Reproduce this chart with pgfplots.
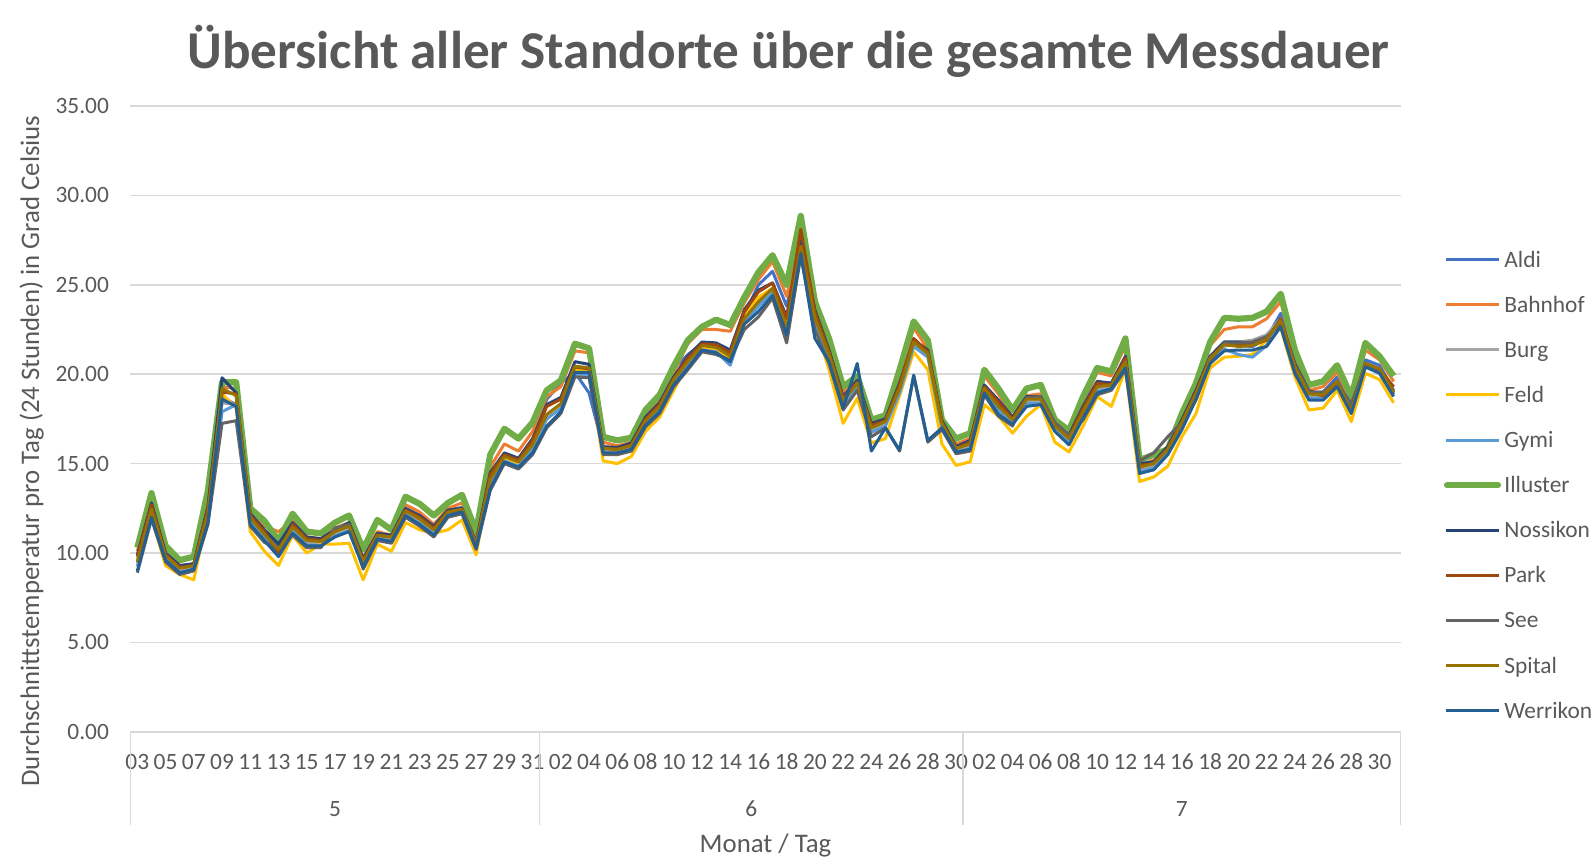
\documentclass[border=0pt]{standalone}
\usepackage{fontspec}
\setmainfont{Carlito}
\usepackage{pgfplots}
\pgfplotsset{compat=1.18}
\usepackage{pgfplotstable}
\definecolor{cAldi}{HTML}{4472C4}
\definecolor{cBahnhof}{HTML}{ED7D31}
\definecolor{cBurg}{HTML}{A5A5A5}
\definecolor{cFeld}{HTML}{FFC000}
\definecolor{cGymi}{HTML}{5B9BD5}
\definecolor{cIlluster}{HTML}{70AD47}
\definecolor{cNossikon}{HTML}{264478}
\definecolor{cPark}{HTML}{9E480E}
\definecolor{cSee}{HTML}{636363}
\definecolor{cSpital}{HTML}{997300}
\definecolor{cWerrikon}{HTML}{255E91}
\definecolor{txt}{HTML}{595959}
\definecolor{gridc}{HTML}{D9D9D9}
\newcommand\tfont{\fontsize{11.7}{14}\selectfont}

\pgfplotstableread{
i A B Bu F Gy Il N P S Sp W
0 9.6 10.1 9.4 9.6 9.25 10.3 9.9 9.8 8.9 9.5 9.0
1 12.55 12.8 12.35 12.0 12.2 13.35 12.8 12.7 11.9 12.45 12.0
2 9.95 10.0 9.75 9.3 9.6 10.4 10.0 9.9 9.5 9.85 9.6
3 9.25 9.3 9.05 8.8 8.9 9.6 9.3 9.2 8.8 9.15 8.9
4 9.4 9.4 9.2 8.5 9.05 9.8 9.4 9.3 9.0 9.3 9.1
5 12.3 12.8 12.1 12.3 11.95 13.5 12.6 12.5 11.6 12.2 11.7
6 18.7 19.3 18.4 18.9 17.9 19.55 19.8 19.0 17.25 19.2 18.6
7 18.3 19.2 18.3 18.1 18.3 19.55 18.95 18.9 17.4 18.8 18.2
8 12.05 12.2 11.85 11.2 11.7 12.5 12.2 12.1 11.5 11.95 11.6
9 11.15 11.5 10.95 10.1 10.8 11.8 11.3 11.2 10.6 11.05 10.7
10 10.3 11.2 10.1 9.3 9.95 10.7 10.5 9.9 10.2 10.2 9.8
11 11.55 11.8 11.35 11.0 11.2 12.2 11.7 11.6 11.0 11.45 11.1
12 10.8 10.9 10.6 10.0 10.45 11.2 10.9 10.8 10.3 10.7 10.4
13 10.75 10.8 10.55 10.5 10.4 11.1 10.8 10.7 10.3 10.65 10.4
14 11.3 11.4 11.1 10.5 10.95 11.7 11.3 11.2 11.4 11.2 10.9
15 11.6 11.7 11.4 10.55 11.25 12.1 11.7 11.6 11.6 11.5 11.2
16 9.6 9.7 9.4 8.5 9.25 10.2 9.7 9.6 9.1 9.5 9.2
17 11.1 11.2 10.9 10.5 10.75 11.85 11.1 11.0 10.7 11.0 10.8
18 11.0 11.0 10.8 10.1 10.65 11.3 11.0 10.9 10.55 10.9 10.65
19 12.45 12.7 12.25 11.7 12.1 13.15 12.5 12.4 12.0 12.35 12.1
20 12.0 12.3 11.8 11.3 11.65 12.75 12.1 12.0 11.5 11.9 11.6
21 11.4 11.6 11.2 11.1 11.05 12.1 11.5 11.4 10.9 11.3 11.0
22 12.4 12.5 12.2 11.3 12.05 12.8 12.4 12.3 12.0 12.3 12.1
23 12.55 12.8 12.35 11.85 12.2 13.25 12.5 12.4 12.2 12.45 12.3
24 10.6 10.8 10.4 9.9 10.25 11.2 10.6 10.5 10.2 10.5 10.3
25 14.2 14.8 14.0 14.2 13.85 15.5 14.5 14.4 13.5 14.1 13.6
26 15.5 16.1 15.3 15.3 15.15 16.95 15.6 15.5 15.0 15.4 15.1
27 15.2 15.7 15.0 15.0 14.85 16.4 15.3 15.2 14.7 15.1 14.8
28 16.15 16.8 15.95 16.0 15.8 17.3 16.4 16.3 15.5 16.05 15.6
29 18.6 18.75 17.65 17.5 17.5 19.1 18.3 18.2 17.0 17.75 17.1
30 19.5 19.3 18.25 18.2 18.1 19.65 18.7 18.6 17.8 18.35 17.9
31 20.1 21.3 20.0 20.25 20.0 21.7 20.7 20.4 19.85 20.45 20.1
32 18.95 21.2 19.9 20.2 20.0 21.45 20.55 20.3 19.8 20.35 20.1
33 15.9 16.2 15.75 15.15 15.6 16.5 15.95 15.85 15.5 15.85 15.6
34 15.9 16.0 15.7 15.0 15.55 16.3 15.9 15.8 15.5 15.8 15.6
35 16.1 16.2 15.9 15.4 15.75 16.45 16.15 16.05 15.7 16.0 15.8
36 17.5 17.7 17.3 16.8 17.15 18.0 17.6 17.5 17.05 17.4 17.15
37 18.3 18.6 18.1 17.6 17.95 18.85 18.4 18.3 17.8 18.2 17.9
38 20.3 20.1 19.6 19.1 19.45 20.45 19.85 19.75 19.3 19.7 19.4
39 21.1 21.7 20.6 20.6 20.45 21.9 21.0 20.9 20.25 20.7 20.35
40 21.7 22.5 21.5 21.5 21.35 22.65 21.8 21.7 21.25 21.6 21.35
41 21.6 22.5 21.4 21.3 21.25 23.05 21.75 21.65 21.1 21.5 21.2
42 21.1 22.4 20.9 20.9 20.5 22.75 21.35 21.2 20.8 21.0 20.7
43 23.3 24.0 23.0 23.2 22.85 24.3 23.6 23.5 22.5 23.1 22.8
44 25.0 25.3 23.95 24.3 23.8 25.7 24.7 24.6 23.2 24.05 23.5
45 25.75 26.3 24.7 24.8 24.55 26.65 25.1 25.1 24.25 24.8 24.4
46 23.8 24.35 22.5 22.9 22.35 25.0 23.2 23.1 21.75 22.6 22.2
47 27.25 27.8 27.05 27.0 26.9 28.85 27.5 28.1 26.6 27.15 26.75
48 23.25 23.6 23.05 22.8 22.9 24.05 23.6 23.5 22.5 23.15 22.0
49 21.2 21.6 21.0 20.25 20.85 22.0 21.35 21.25 20.6 21.1 20.7
50 18.6 19.0 18.4 17.25 18.25 19.3 18.75 18.65 18.0 18.5 18.1
51 19.6 19.7 19.4 18.65 19.25 19.9 19.65 19.55 19.1 19.5 20.6
52 17.1 17.2 16.9 16.15 16.75 17.45 17.25 17.15 16.5 17.0 15.7
53 17.45 17.5 17.25 16.4 17.1 17.7 17.5 17.4 17.0 17.35 17.0
54 19.3 19.8 19.1 18.8 18.95 20.25 19.5 19.4 15.7 19.2 15.75
55 21.85 22.6 21.7 21.25 21.55 22.95 21.9 22.0 19.9 21.8 19.95
56 21.2 21.4 21.1 20.25 20.95 21.9 21.35 21.25 16.2 21.15 16.3
57 17.3 17.3 17.15 16.1 17.0 17.45 17.4 17.3 16.9 17.25 17.0
58 15.9 16.1 15.75 14.9 15.6 16.4 15.95 15.85 15.55 15.85 15.65
59 16.2 16.4 16.0 15.1 15.85 16.7 16.3 16.2 15.7 16.1 15.8
60 19.3 19.9 19.1 18.3 18.95 20.25 19.4 19.3 18.85 19.2 18.95
61 18.3 18.9 18.1 17.65 17.95 19.2 18.55 18.45 17.65 18.2 17.75
62 17.55 17.6 17.35 16.7 17.2 18.0 17.6 17.5 17.1 17.45 17.2
63 18.7 18.8 18.5 17.65 18.35 19.2 18.75 18.65 18.7 18.6 18.2
64 18.7 18.9 18.5 18.3 18.35 19.4 18.75 18.65 18.75 18.6 18.3
65 17.2 17.2 17.0 16.2 16.85 17.45 17.25 17.15 17.3 17.1 16.8
66 16.5 16.5 16.3 15.65 16.15 16.85 16.6 16.5 16.6 16.4 16.05
67 18.0 18.4 17.8 17.1 17.65 18.75 18.2 18.1 17.45 17.9 17.55
68 19.55 20.1 19.2 18.75 19.05 20.35 19.6 19.5 18.85 19.3 18.95
69 19.5 19.9 19.3 18.2 19.15 20.15 19.5 19.4 19.1 19.4 19.2
70 20.8 21.6 20.6 20.25 20.45 22.0 21.0 20.9 20.25 20.7 20.35
71 14.9 14.9 14.7 14.0 14.55 15.2 15.0 14.9 15.15 14.8 14.45
72 15.1 15.2 14.9 14.25 14.75 15.5 15.1 15.0 15.6 15.0 14.65
73 15.9 15.7 15.7 14.85 15.55 15.8 15.95 15.85 16.5 15.8 15.5
74 17.4 17.5 17.2 16.5 17.05 17.8 17.45 17.35 17.3 17.3 16.9
75 19.0 19.3 18.8 17.8 18.65 19.5 19.1 19.0 18.55 18.9 18.6
76 21.0 21.6 20.8 20.35 20.65 21.8 21.0 20.9 20.7 20.9 20.6
77 21.75 22.5 21.55 20.95 21.4 23.15 21.8 21.7 21.75 21.65 21.3
78 21.6 22.65 21.8 21.0 21.1 23.1 21.8 21.7 21.75 21.55 21.35
79 21.55 22.65 21.9 21.1 20.95 23.15 21.75 21.65 21.8 21.6 21.35
80 22.0 23.1 22.2 21.9 21.6 23.5 22.0 21.9 22.1 21.95 21.55
81 23.4 24.05 23.1 22.6 22.9 24.5 23.0 23.1 22.8 23.0 22.65
82 20.5 21.0 20.3 19.85 20.15 21.35 20.6 20.5 20.5 20.4 20.05
83 19.0 19.1 18.8 18.0 18.65 19.4 19.05 18.95 19.0 18.9 18.55
84 19.0 19.3 18.8 18.1 18.65 19.6 18.9 18.8 19.0 18.85 18.55
85 19.85 20.1 19.5 19.1 19.4 20.5 19.6 19.55 19.5 19.6 19.3
86 18.0 18.5 18.2 17.35 17.95 18.75 18.1 18.0 18.35 17.9 17.8
87 20.8 21.35 20.5 20.05 20.45 21.75 20.6 20.55 20.5 20.6 20.4
88 20.5 20.8 20.3 19.7 20.15 21.0 20.3 20.25 20.2 20.3 20.05
89 19.1 19.6 19.0 18.4 18.85 19.9 19.0 19.3 18.9 19.0 18.75
}\data

\begin{document}
\begin{tikzpicture}[x=0.5pt,y=0.5pt]
\begin{axis}[
  scale only axis, width=635.2pt, height=313pt,
  xmin=-0.5, xmax=89.5, ymin=0, ymax=35,
  ytick={0,5,...,35},
  xtick={0,2,...,88},
  xticklabels={03,05,07,09,11,13,15,17,19,21,23,25,27,29,31,02,04,06,08,10,12,14,16,18,20,22,24,26,28,30,02,04,06,08,10,12,14,16,18,20,22,24,26,28,30},
  ymajorgrids, grid style={gridc, line width=0.75pt},
  axis line style={draw=none},
  major tick length=0pt,
  clip=false,
  tick label style={font=\tfont, text=txt},
  yticklabel style={anchor=east, inner sep=0pt, xshift=-10.5pt},
  xticklabel style={anchor=base, inner sep=0pt, yshift=-18.8pt},
  /pgf/number format/fixed, /pgf/number format/fixed zerofill,
  /pgf/number format/precision=2, /pgf/number format/assume math mode=true,
  every axis plot/.append style={line join=round, line width=1.5pt},
]
\coordinate (O) at (rel axis cs:0,0);
\foreach \xx in {-0.5,28.5,58.5,89.5}{
  \edef\tmp{\noexpand\draw[gridc, line width=0.75pt] (axis cs:\xx,0) -- ++(0pt,-46.3pt);}\tmp
}
\node[anchor=base, inner sep=0pt, text=txt, font=\tfont, yshift=-42.3pt] at (axis cs:14,0) {5};
\node[anchor=base, inner sep=0pt, text=txt, font=\tfont, yshift=-42.3pt] at (axis cs:43.5,0) {6};
\node[anchor=base, inner sep=0pt, text=txt, font=\tfont, yshift=-42.3pt] at (axis cs:74,0) {7};
\addplot[cAldi] table[x=i,y=A]{\data};
\addplot[cBahnhof] table[x=i,y=B]{\data};
\addplot[cBurg] table[x=i,y=Bu]{\data};
\addplot[cFeld] table[x=i,y=F]{\data};
\addplot[cGymi] table[x=i,y=Gy]{\data};
\addplot[cIlluster, line width=3.1pt] table[x=i,y=Il]{\data};
\addplot[cNossikon] table[x=i,y=N]{\data};
\addplot[cPark] table[x=i,y=P]{\data};
\addplot[cSee] table[x=i,y=S]{\data};
\addplot[cSpital] table[x=i,y=Sp]{\data};
\addplot[cWerrikon] table[x=i,y=W]{\data};
\end{axis}
\begin{scope}[shift={([shift={(-130.3,-126.1)}]O)}]
% title and labels
\node[anchor=base, inner sep=0pt, text=txt, font=\fontsize{26.6}{30}\selectfont\bfseries] at (788.5,789.5) {Übersicht aller Standorte über die gesamte Messdauer};
\node[rotate=90, anchor=center, inner sep=0pt, text=txt, font=\fontsize{13.4}{16}\selectfont] at (31.6,407) {Durchschnittstemperatur pro Tag (24 Stunden) in Grad Celsius};
\node[anchor=base, inner sep=0pt, text=txt, font=\fontsize{13.4}{16}\selectfont] at (765.5,5.5) {Monat / Tag};
% legend
\def\legentry#1#2#3#4{%
  \draw[#2, line width=#4] (1446,#3) -- (1499,#3);
  \node[anchor=base west, inner sep=0pt, text=txt, font=\tfont] at (1504,#3-7.5) {#1};}
\legentry{Aldi}{cAldi}{598.4}{1.5pt}
\legentry{Bahnhof}{cBahnhof}{553.3}{1.5pt}
\legentry{Burg}{cBurg}{508.2}{1.5pt}
\legentry{Feld}{cFeld}{463.1}{1.5pt}
\legentry{Gymi}{cGymi}{418.0}{1.5pt}
\draw[cIlluster, line width=3.1pt, line cap=round] (1447,372.9) -- (1498,372.9);
\node[anchor=base west, inner sep=0pt, text=txt, font=\tfont] at (1504,365.4) {Illuster};
\legentry{Nossikon}{cNossikon}{327.8}{1.5pt}
\legentry{Park}{cPark}{282.7}{1.5pt}
\legentry{See}{cSee}{237.6}{1.5pt}
\legentry{Spital}{cSpital}{192.5}{1.5pt}
\legentry{Werrikon}{cWerrikon}{147.4}{1.5pt}
\pgfresetboundingbox
\useasboundingbox (0,0) rectangle (1596,858);
\end{scope}
\end{tikzpicture}
\end{document}
